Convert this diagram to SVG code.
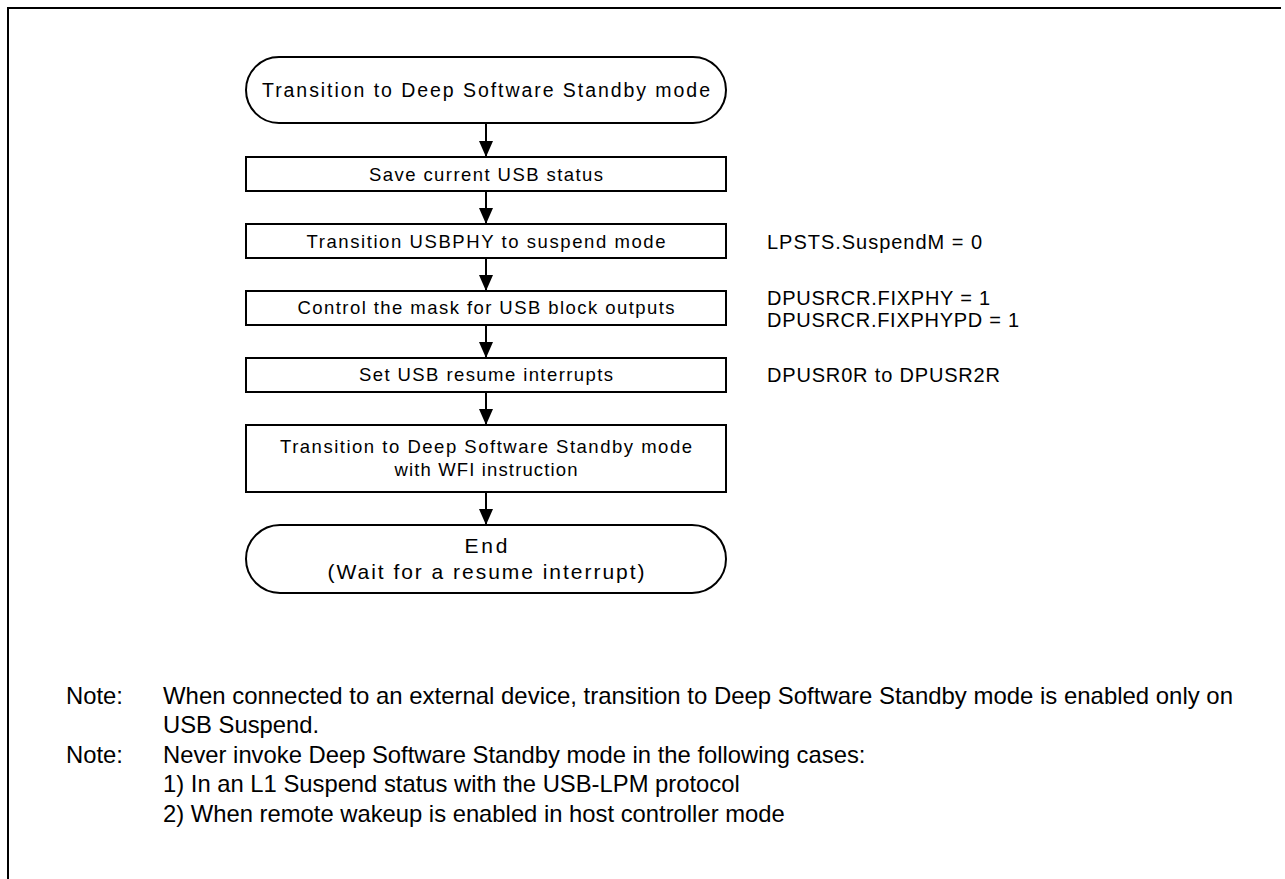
<svg xmlns="http://www.w3.org/2000/svg" width="1285" height="879" viewBox="0 0 1285 879">
<style>
.frame{fill:none;stroke:#000;stroke-width:2}
.shape{fill:#fff;stroke:#000;stroke-width:2}
.conn{stroke:#000;stroke-width:2;fill:none}
text{font-family:"Liberation Sans",Arial,sans-serif;fill:#000}
.t{font-size:19.5px;text-anchor:middle}
.e{font-size:21px;text-anchor:middle}
.b{font-size:18.5px;text-anchor:middle}
.a{font-size:20px}
.n{font-size:23.8px}
</style>
<defs>
<marker id="arr" viewBox="0 0 16 14" refX="16" refY="7" markerWidth="16" markerHeight="14" markerUnits="userSpaceOnUse" orient="auto">
<path d="M0,0 L16,7 L0,14 Z" fill="#000"/>
</marker>
</defs>
<rect width="1285" height="879" fill="#fff"/>
<path class="frame" d="M8,879 L8,8 L1281,8"/>
<g id="connectors">
<line class="conn" x1="486" y1="123" x2="486" y2="157" marker-end="url(#arr)"/>
<line class="conn" x1="486" y1="191" x2="486" y2="224" marker-end="url(#arr)"/>
<line class="conn" x1="486" y1="258" x2="486" y2="291" marker-end="url(#arr)"/>
<line class="conn" x1="486" y1="325" x2="486" y2="358" marker-end="url(#arr)"/>
<line class="conn" x1="486" y1="392" x2="486" y2="425" marker-end="url(#arr)"/>
<line class="conn" x1="486" y1="492" x2="486" y2="525" marker-end="url(#arr)"/>
</g>
<g id="start">
<rect class="shape" x="246" y="57" width="480" height="66" rx="33" ry="33"/>
<text class="t" x="486" y="97" textLength="448" lengthAdjust="spacing">Transition to Deep Software Standby mode</text>
</g>
<g id="save">
<rect class="shape" x="246" y="157" width="480" height="34"/>
<text class="b" x="486" y="180.6" textLength="234" lengthAdjust="spacing">Save current USB status</text>
</g>
<g id="suspend">
<rect class="shape" x="246" y="224" width="480" height="34"/>
<text class="b" x="486" y="248.3" textLength="359" lengthAdjust="spacing">Transition USBPHY to suspend mode</text>
</g>
<g id="mask">
<rect class="shape" x="246" y="291" width="480" height="34"/>
<text class="b" x="486" y="314" textLength="377" lengthAdjust="spacing">Control the mask for USB block outputs</text>
</g>
<g id="resume">
<rect class="shape" x="246" y="358" width="480" height="34"/>
<text class="b" x="486" y="380.6" textLength="254" lengthAdjust="spacing">Set USB resume interrupts</text>
</g>
<g id="wfi">
<rect class="shape" x="246" y="425" width="480" height="67"/>
<text class="b" x="486" y="453.3" textLength="412" lengthAdjust="spacing">Transition to Deep Software Standby mode</text>
<text class="b" x="486" y="476" textLength="183" lengthAdjust="spacing">with WFI instruction</text>
</g>
<g id="end">
<rect class="shape" x="246" y="525" width="480" height="68" rx="34" ry="34"/>
<text class="e" x="486" y="552.5" textLength="43" lengthAdjust="spacing">End</text>
<text class="e" x="486" y="579" textLength="317" lengthAdjust="spacing">(Wait for a resume interrupt)</text>
</g>
<g id="annotations">
<text class="a" x="767" y="248.7" textLength="215" lengthAdjust="spacing">LPSTS.SuspendM = 0</text>
<text class="a" x="767" y="304.5" textLength="223" lengthAdjust="spacing">DPUSRCR.FIXPHY = 1</text>
<text class="a" x="767" y="327.2" textLength="252" lengthAdjust="spacing">DPUSRCR.FIXPHYPD = 1</text>
<text class="a" x="767" y="382.2" textLength="233" lengthAdjust="spacing">DPUSR0R to DPUSR2R</text>
</g>
<g id="notes">
<text class="n" x="66" y="703.5">Note:</text>
<text class="n" x="163" y="703.5" textLength="1070" lengthAdjust="spacingAndGlyphs">When connected to an external device, transition to Deep Software Standby mode is enabled only on</text>
<text class="n" x="163" y="733">USB Suspend.</text>
<text class="n" x="66" y="762.5">Note:</text>
<text class="n" x="163" y="762.5">Never invoke Deep Software Standby mode in the following cases:</text>
<text class="n" x="163" y="792">1) In an L1 Suspend status with the USB-LPM protocol</text>
<text class="n" x="163" y="821.5">2) When remote wakeup is enabled in host controller mode</text>
</g>
</svg>
